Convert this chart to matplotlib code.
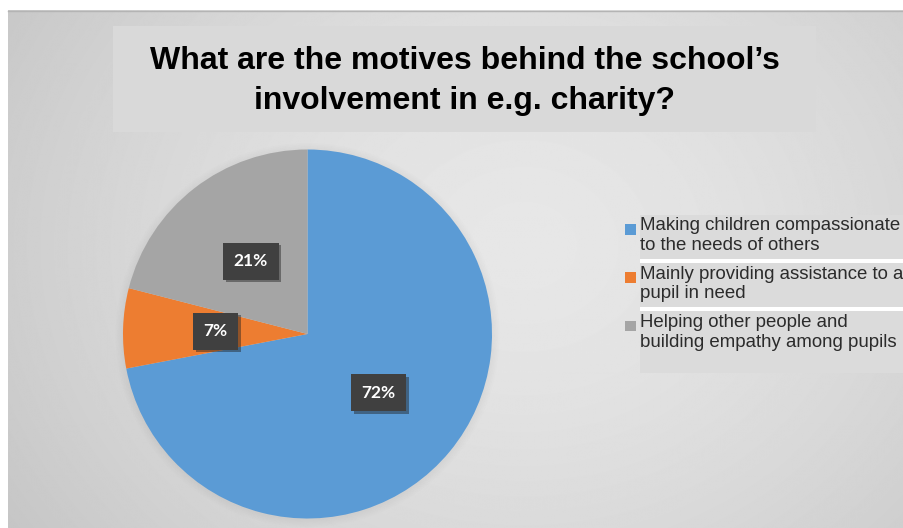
import numpy as np
import matplotlib.pyplot as plt
from matplotlib.patches import Rectangle
import matplotlib.patheffects as pe

# survey answers (share of schools, %)
answers = [
    "Making children compassionate\nto the needs of others",
    "Mainly providing assistance to a\npupil in need",
    "Helping other people and\nbuilding empathy among pupils",
]
shares = [72, 7, 21]
colors = ["#5B9BD5", "#ED7D31", "#A5A5A5"]
title = "What are the motives behind the school\u2019s\ninvolvement in e.g. charity?"

W, H = 904, 528
fig = plt.figure(figsize=(W / 100, H / 100), dpi=100)
fig.patch.set_facecolor("white")

# background layer in pixel coordinates (y downwards)
bg = fig.add_axes([0, 0, 1, 1])
bg.set_xlim(0, W)
bg.set_ylim(H, 0)
bg.axis("off")

yy, xx = np.mgrid[0:H, 0:W]
d = np.sqrt(((xx - 520) / 620.0) ** 2 + ((yy - 240) / 520.0) ** 2)
shade = np.clip(0.905 - 0.13 * d ** 1.6, 0, 1)
bg.imshow(shade, cmap="gray", vmin=0, vmax=1, extent=(8, W, H, 10),
          aspect="auto", interpolation="bilinear", zorder=0)
bg.plot([8, W], [10.5, 10.5], color="#b4b4b4", lw=1, zorder=1)

# title box
bg.add_patch(Rectangle((113, 26), 703, 106, facecolor="#d9d9d9",
                       edgecolor="none", zorder=2))
bg.text(464.5, 81, title, ha="center", va="center", fontsize=23,
        fontweight="bold", family="Liberation Sans", linespacing=1.42,
        color="black", zorder=3)

# legend panels
panels = [(215, 44), (263, 44), (311, 62)]
for top, h in panels:
    bg.add_patch(Rectangle((640, top), W - 640, h, facecolor="#dbdbdb",
                           edgecolor="none", zorder=2))
for top in (259, 307):
    bg.add_patch(Rectangle((640, top), W - 640, 4, facecolor="white",
                           edgecolor="none", zorder=2))

# legend entries
for i, (lab, col) in enumerate(zip(answers, colors)):
    y0 = 217.5 + i * 48.3
    bg.add_patch(Rectangle((625, y0 + 6.5), 11, 10.5, facecolor=col,
                           edgecolor="none", zorder=3))
    bg.text(640, y0, lab, ha="left", va="top", fontsize=13.4,
            family="Liberation Sans", color="#2b2b2b", linespacing=1.2,
            zorder=3)

# soft shadow behind the pie
cx, cy, r = 307.5, 334, 184.5
for k in range(5):
    bg.add_patch(plt.Circle((cx, cy + 1), r + 1 + 1.6 * k,
                            facecolor="#9a9a9a", edgecolor="none",
                            alpha=0.025, zorder=1))

# pie
ax = fig.add_axes([(cx - r) / W, (H - cy - r) / H, 2 * r / W, 2 * r / H])
ax.set_zorder(5)
wedges, texts, autotexts = ax.pie(
    shares, colors=colors, startangle=90, counterclock=False,
    autopct=lambda p: f"{p:.0f}%", pctdistance=0.5,
    wedgeprops=dict(linewidth=0),
)
ax.set_xlim(-1, 1)
ax.set_ylim(-1, 1)

for t in autotexts:
    t.set_family(["Lato", "DejaVu Sans"])
    t.set_fontweight("bold")
    t.set_fontsize(12.5)
    t.set_color("white")
    t.set_bbox(dict(boxstyle="square,pad=0.6", facecolor="#404040",
                    edgecolor="none"))
    t.get_bbox_patch().set_path_effects(
        [pe.SimplePatchShadow(offset=(2, -2), shadow_rgbFace="#202020",
                              alpha=0.45), pe.Normal()])

fig.savefig("out.png", dpi=100)
